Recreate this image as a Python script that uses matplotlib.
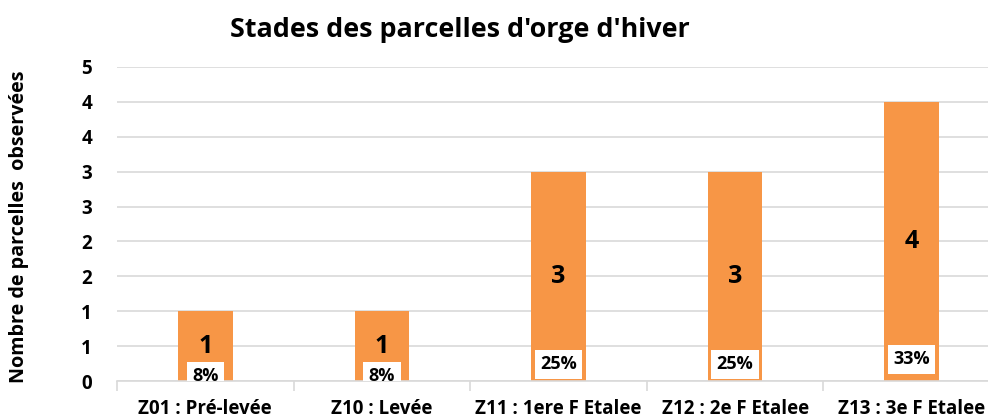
import numpy as np
from matplotlib import pyplot as plt
from matplotlib.ticker import FixedLocator, FuncFormatter

plt.rcParams["font.family"] = ["Open Sans", "DejaVu Sans"]
plt.rcParams["font.weight"] = "bold"

categories = ["Z01 : Pré-levée", "Z10 : Levée", "Z11 : 1ere F Etalee",
              "Z12 : 2e F Etalee", "Z13 : 3e F Etalee"]
counts = [1, 1, 3, 3, 4]
percents = ["8%", "8%", "25%", "25%", "33%"]
y_ticks = np.arange(0, 4.51, 0.5)

bar_color = "#F79646"
grid_color = "#D9D9D9"

fig = plt.figure(figsize=(9.88, 4.19), dpi=100)
ax = fig.add_axes([117 / 988, 38 / 419, 883 / 988, 314 / 419])

x = np.arange(len(categories))
ax.bar(x, counts, width=0.31, color=bar_color, zorder=2)

# value label at mid-height, percentage in a white box near the base
pct_y = [0.07, 0.07, 0.24, 0.24, 0.31]
for xi, c, p, py in zip(x, counts, percents, pct_y):
    ax.text(xi, c / 2, str(c), ha="center", va="center",
            fontsize=18, fontweight="bold", zorder=4)
    ax.text(xi, py, p, ha="center", va="center", fontsize=13,
            fontweight="bold", zorder=4, clip_on=True,
            bbox=dict(boxstyle="square,pad=0.3", fc="white", ec="none"))

ax.set_xlim(-0.5, len(categories) - 0.5)
ax.set_ylim(0, 4.5)
ax.yaxis.set_major_locator(FixedLocator(y_ticks))
ax.yaxis.set_major_formatter(FuncFormatter(lambda v, _: str(int(np.floor(v + 0.5)))))
ax.grid(axis="y", color=grid_color, linewidth=1.2, zorder=0)
ax.set_axisbelow(True)

ax.set_xticks(x)
ax.set_xticklabels(categories, fontsize=13.5, fontweight="bold")
ax.set_xticks(np.arange(-0.5, len(categories)), minor=True)
ax.tick_params(axis="x", which="major", length=0, pad=13)
ax.tick_params(axis="x", which="minor", length=7, color=grid_color, width=1.2)
ax.tick_params(axis="y", length=0, pad=18, labelsize=13.5)
for lab in ax.get_yticklabels():
    lab.set_fontweight("bold")

for side in ["top", "right", "left"]:
    ax.spines[side].set_visible(False)
ax.spines["bottom"].set_color(grid_color)
ax.spines["bottom"].set_linewidth(1.2)

fig.text(19 / 988, 192.5 / 419, "Nombre de parcelles  observées", rotation=90,
         ha="center", va="center", fontsize=14.2, fontweight="bold")

fig.text(460 / 988, 1 - 30 / 419, "Stades des parcelles d'orge d'hiver",
         ha="center", va="center", fontsize=19.4, fontweight="bold")

plt.savefig("out.png", dpi=100)
